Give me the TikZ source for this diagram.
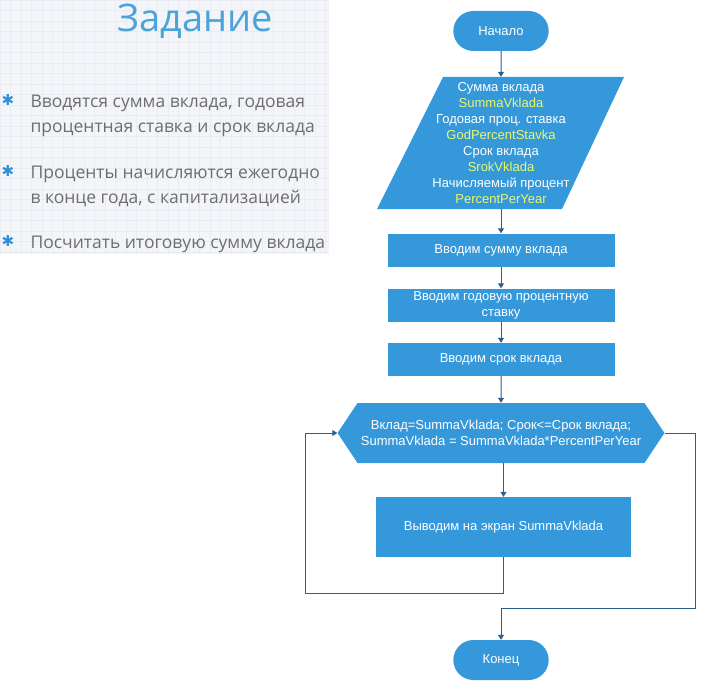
\documentclass[tikz,border=0pt]{standalone}
\usepackage{fontspec}
\setmainfont{Liberation Sans}
\newfontfamily\slidefont{Open Sans}
\newfontfamily\symfont{DejaVu Sans}
\usetikzlibrary{shapes.misc,shapes.symbols,arrows.meta,calc}
\definecolor{boxblue}{HTML}{3498DB}
\definecolor{lineblue}{HTML}{2D5F8C}
\definecolor{varyellow}{HTML}{EAF86A}
\definecolor{titleblue}{HTML}{4BA3D9}
\definecolor{slidegrey}{HTML}{6E6E6E}
\definecolor{bulletblue}{HTML}{2F8FD8}
\definecolor{slidebg}{HTML}{F4F5F8}
\definecolor{gridline}{HTML}{E9ECF2}
\newcommand{\var}[1]{\textcolor{varyellow}{#1}}

\begin{document}
\begin{tikzpicture}[x = 1pt, y = -1pt, font = \fontsize{13}{16}\selectfont,
    block/.style = {rectangle, fill = boxblue, text = white, align = center, inner sep = 2pt, minimum width = 227pt, minimum height = 33pt},
    term/.style = {rounded rectangle, fill = boxblue, text = white, minimum width = 102pt, minimum height = 40pt},
    slidetext/.style = {anchor = base west, text = slidegrey, font = \slidefont\fontsize{17.5}{25}\selectfont},
    bullet/.style = {text = bulletblue, font = \symfont\fontsize{15}{15}\selectfont},
    line/.style = {draw = lineblue, line width = 1pt},
    > = {Triangle[width = 6pt, length = 5pt]}]
      \useasboundingbox (0, 0) rectangle (703, 682);
      \fill [slidebg] (0, 0) rectangle (329, 254);
      \draw [gridline, line width = 0.3pt, step = 10.5pt] (0, 0) grid (329, 254);

      \node (title) [anchor = base, text = titleblue, font = \slidefont\fontsize{38}{40}\selectfont] at (195, 32) {Задание};
      \node (b1) [bullet] at (8, 100) {✱};
      \node (t1) [slidetext] at (27, 107) {Вводятся сумма вклада, годовая};
      \node (t2) [slidetext] at (27, 132) {процентная ставка и срок вклада};
      \node (b2) [bullet] at (8, 171) {✱};
      \node (t3) [slidetext] at (27, 178) {Проценты начисляются ежегодно};
      \node (t4) [slidetext] at (27, 203) {в конце года, с капитализацией};
      \node (b3) [bullet] at (8, 241) {✱};
      \node (t5) [slidetext] at (27, 248) {Посчитать итоговую сумму вклада};

      \fill [boxblue] (443, 77) -- (624, 77) -- (562, 209) -- (377, 209) -- cycle;
      \node (start) [term] at (501, 31) {Начало};
      \node (input) [rectangle, text = white, align = center, inner sep = 0pt, minimum height = 132pt] at (501, 143) {Сумма вклада\\ \var{SummaVklada}\\ Годовая проц. ставка\\ \var{GodPercentStavka}\\ Срок вклада\\ \var{SrokVklada}\\ Начисляемый процент\\ \var{PercentPerYear}};
      \node (sum) [block] at (501, 250) {Вводим сумму вклада};
      \node (rate) [block] at (501, 305) {Вводим годовую процентную\\ ставку};
      \node (term) [block] at (501, 359.5) {Вводим срок вклада};
      \node (loop) [signal, signal to = west and east, signal pointer angle = 112.6, fill = boxblue, text = white, align = center, minimum width = 324pt, minimum height = 60pt] at (501, 433) {Вклад=SummaVklada; Срок<=Срок вклада;\\ SummaVklada = SummaVklada*PercentPerYear};
      \node (output) [block, minimum width = 255pt, minimum height = 60pt] at (503.5, 527) {Выводим на экран SummaVklada};
      \node (end) [term] at (501, 660) {Конец};

      \draw [line, ->] (start) -- (input);
      \draw [line, ->] (input) -- (sum);
      \draw [line, ->] (sum) -- (rate);
      \draw [line, ->] (rate) -- (term);
      \draw [line, ->] (term) -- (loop);
      \draw [line, ->] (output.north |- loop.south) -- (output.north);
      \draw [line, ->] (output.south) -- ++(0, 36) -| ($(loop.west) + (-32, 0)$) -- (loop.west);
      \draw [line, ->] (loop.east) -- ++(31, 0) |- ($(end.north) + (0, -31)$) -- (end.north);
    \end{tikzpicture}
\end{document}
